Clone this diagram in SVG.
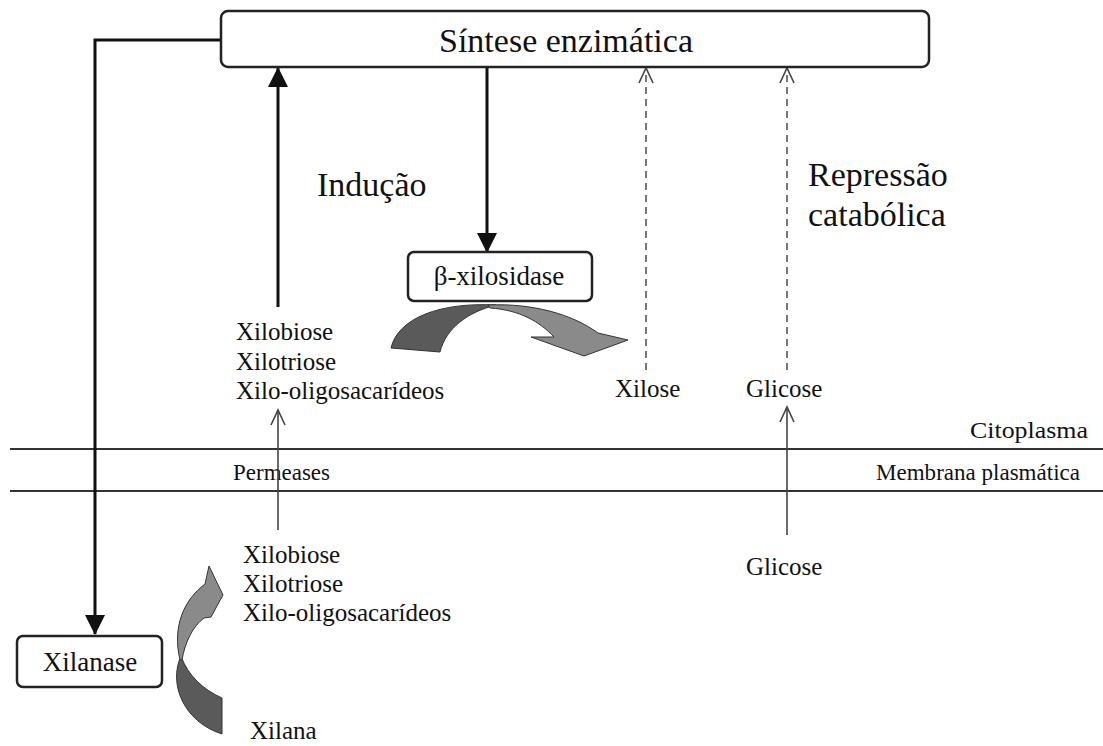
<svg xmlns="http://www.w3.org/2000/svg" width="1103" height="746" viewBox="0 0 1103 746">
<style>
text{font-family:"Liberation Serif","Times New Roman",serif;fill:#111}
.box{fill:#fff;stroke:#222;stroke-width:2.5}
.thick{stroke:#111;stroke-width:3;fill:none}
.thin{stroke:#444;stroke-width:1.6;fill:none}
.dash{stroke:#555;stroke-width:1.6;fill:none;stroke-dasharray:7 5}
.mem{stroke:#333;stroke-width:2.2}
.big{font-size:34px}
.lbl{font-size:25px}
.bx{font-size:27px}
.sm{font-size:23px}
</style>
<defs>
<marker id="fill" markerWidth="22" markerHeight="20" refX="19" refY="10" orient="auto" markerUnits="userSpaceOnUse">
<path d="M0,0 L20,10 L0,20 Z" fill="#111"/>
</marker>
<marker id="open" markerWidth="18" markerHeight="16" refX="16" refY="8" orient="auto" markerUnits="userSpaceOnUse">
<path d="M1,1 L16,8 L1,15" fill="none" stroke="#444" stroke-width="1.6"/>
</marker>
</defs>
<rect width="1103" height="746" fill="#fff"/>

<g id="membrane">
<line class="mem" x1="10" y1="449" x2="1103" y2="449"/>
<line class="mem" x1="10" y1="491" x2="1103" y2="491"/>
<text class="sm" x="970" y="438" textLength="118" lengthAdjust="spacingAndGlyphs">Citoplasma</text>
<text class="sm" x="233" y="480" textLength="97" lengthAdjust="spacingAndGlyphs">Permeases</text>
<text class="sm" x="876" y="480" textLength="204" lengthAdjust="spacingAndGlyphs">Membrana plasmática</text>
</g>

<g id="connectors">
<polyline class="thick" points="221,40 95,40 95,634" marker-end="url(#fill)"/>
<line class="thick" x1="278" y1="307" x2="278" y2="68" marker-end="url(#fill)"/>
<line class="thick" x1="487" y1="68" x2="487" y2="252" marker-end="url(#fill)"/>
<line class="dash" x1="646" y1="370" x2="646" y2="68" marker-end="url(#open)"/>
<line class="dash" x1="787" y1="370" x2="787" y2="68" marker-end="url(#open)"/>
<line class="thin" x1="278" y1="530" x2="278" y2="410" marker-end="url(#open)"/>
<line class="thin" x1="787" y1="535" x2="787" y2="407" marker-end="url(#open)"/>
<path d="M391,348 C398,318 440,302 496,305 C468,312 446,328 440,352 Z" fill="#5a5a5a" stroke="#333" stroke-width="1"/>
<path d="M488,305 C532,303 572,314 598,333 L628,340 L584,356 L531,337 L554,337 C540,322 520,310 490,308 Z" fill="#8a8a8a" stroke="#333" stroke-width="1"/>
<path d="M181,656 C168,684 184,722 222,734 L222,698 C204,690 188,676 181,656 Z" fill="#5a5a5a" stroke="#333" stroke-width="1"/>
<path d="M180,660 C172,626 184,600 205,584 L209,566 L223,595 L211,617 L204,618 C193,626 185,642 182,660 Z" fill="#8a8a8a" stroke="#333" stroke-width="1"/>
</g>

<g id="sintese">
<rect class="box" x="221" y="11" width="708" height="56" rx="7"/>
<text class="big" x="566" y="52" text-anchor="middle">Síntese enzimática</text>
</g>

<g id="xilanase">
<rect class="box" x="17" y="636" width="145" height="51" rx="6"/>
<text class="bx" x="90" y="671" text-anchor="middle">Xilanase</text>
</g>

<g id="bxilosidase">
<rect class="box" x="408" y="252" width="184" height="49" rx="6"/>
<text class="bx" x="499" y="285" text-anchor="middle">β-xilosidase</text>
</g>

<g id="inducao"><text class="big" x="317" y="196">Indução</text></g>
<g id="repressao">
<text class="big" x="808" y="186">Repressão</text>
<text class="big" x="808" y="226">catabólica</text>
</g>

<g id="oligos-in">
<text class="lbl" x="236" y="340">Xilobiose</text>
<text class="lbl" x="236" y="370">Xilotriose</text>
<text class="lbl" x="236" y="399">Xilo-oligosacarídeos</text>
</g>
<g id="xilose"><text class="lbl" x="615" y="397">Xilose</text></g>
<g id="glicose-in"><text class="lbl" x="746" y="397">Glicose</text></g>
<g id="oligos-out">
<text class="lbl" x="243" y="563">Xilobiose</text>
<text class="lbl" x="243" y="592">Xilotriose</text>
<text class="lbl" x="243" y="621">Xilo-oligosacarídeos</text>
</g>
<g id="glicose-out"><text class="lbl" x="746" y="575">Glicose</text></g>
<g id="xilana"><text class="lbl" x="250" y="739">Xilana</text></g>
</svg>
